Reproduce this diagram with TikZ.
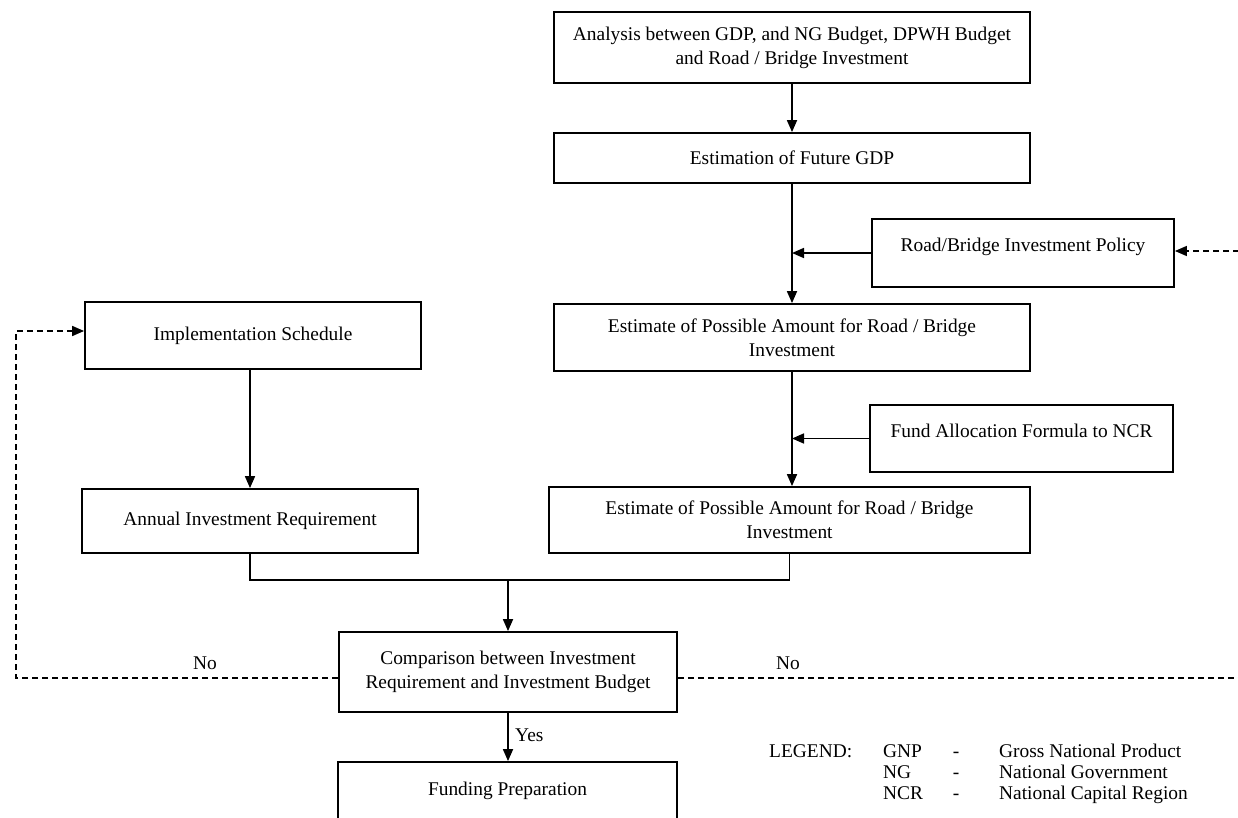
\documentclass[tikz,border=0pt]{standalone}
\usepackage{fontspec}
\setmainfont{Liberation Serif}
\usetikzlibrary{arrows.meta}
\begin{document}
\begin{tikzpicture}[x=1pt,y=-1pt,
  box/.style={draw, line width=1.8pt, inner sep=0pt, align=center, font=\fontsize{19.4}{24}\selectfont},
  arr/.style={line width=1.7pt, -{Triangle[length=12pt,width=10pt]}},
  ln/.style={line width=1.7pt},
  dsh/.style={line width=1.6pt, dash pattern=on 6pt off 4pt, -{Triangle[length=12pt,width=10pt]}},
  lbl/.style={font=\fontsize{19.4}{24}\selectfont, inner sep=0pt}]
\useasboundingbox (0,0) rectangle (1238,818);

\node[box, minimum width=476pt, minimum height=71pt] (top) at (792,47.5) {Analysis between GDP, and NG Budget, DPWH Budget\\and Road / Bridge Investment};
\node[box, minimum width=476pt, minimum height=50pt] (est) at (792,158) {Estimation of Future GDP};
\node[box, minimum width=302pt, minimum height=68pt, text depth=16pt] (pol) at (1023,253) {Road/Bridge Investment Policy};
\node[box, minimum width=476pt, minimum height=67pt] (e1) at (792,337.5) {Estimate of Possible Amount for Road / Bridge\\Investment};
\node[box, minimum width=336pt, minimum height=67pt] (impl) at (253,335.5) {Implementation Schedule};
\node[box, minimum width=303pt, minimum height=67pt, text depth=16pt] (fund) at (1021.5,438.5) {Fund Allocation Formula to NCR};
\node[box, minimum width=481pt, minimum height=66pt] (e2) at (789.5,520) {Estimate of Possible Amount for Road / Bridge\\Investment};
\node[box, minimum width=336pt, minimum height=64pt] (ann) at (250,521) {Annual Investment Requirement};
\node[box, minimum width=338pt, minimum height=80pt] (comp) at (508,672) {Comparison between Investment\\Requirement and Investment Budget};
\node[box, minimum width=339pt, minimum height=58pt] (fp) at (507.5,791) {Funding Preparation};

\draw[arr] (top) -- (est);
\draw[arr] (est) -- (e1);
\draw[arr] (pol.west) -- (pol.west -| est.south);
\draw[arr] (e1.south) -- (e1.south |- e2.north);
\draw[arr] (fund.west) -- (fund.west -| e1.south);
\draw[arr] (impl.south -| ann.north) -- (ann.north);
\coordinate (m) at (508,580);
\draw[ln] (ann.south) |- (m) -| (e2.south);
\draw[arr] (m) -- (comp.north);
\draw[arr] (comp.south) -- (comp.south |- fp.north);
\node[lbl, anchor=west] (yes) at (515,735) {Yes};

\coordinate (dl) at (16,331);
\draw[dsh] ([yshift=-6pt]comp.west) -| (dl) -- (impl.west |- dl);
\coordinate (dr) at (1245,251);
\draw[dsh] ([yshift=-6pt]comp.east) -| (dr) -- (pol.east |- dr);
\node[lbl] (no1) at (205,663) {No};
\node[lbl] (no2) at (788,663) {No};

\node[lbl, anchor=base west] (leg) at (769,757) {LEGEND:};
\node[lbl, anchor=base west] (k1) at (883,757) {GNP};
\node[lbl, anchor=base west] (k2) at (883,778) {NG};
\node[lbl, anchor=base west] (k3) at (883,799) {NCR};
\node[lbl, anchor=base] (h1) at (956,757) {-};
\node[lbl, anchor=base] (h2) at (956,778) {-};
\node[lbl, anchor=base] (h3) at (956,799) {-};
\node[lbl, anchor=base west] (v1) at (999,757) {Gross National Product};
\node[lbl, anchor=base west] (v2) at (999,778) {National Government};
\node[lbl, anchor=base west] (v3) at (999,799) {National Capital Region};
\end{tikzpicture}
\end{document}
